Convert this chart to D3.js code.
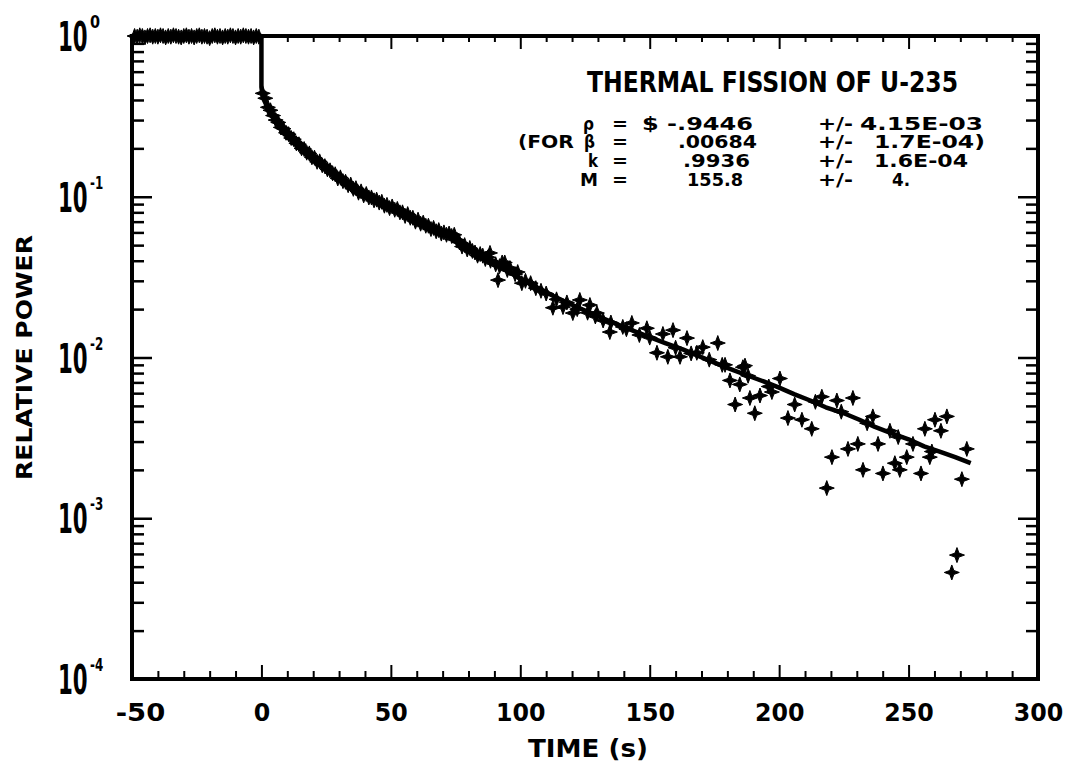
<!DOCTYPE html>
<html><head><meta charset="utf-8">
<script src="https://cdn.jsdelivr.net/npm/d3@7/dist/d3.min.js"></script>
<style>body{margin:0;background:#fff}svg{display:block}text{font-family:"DejaVu Sans",sans-serif;font-weight:bold;fill:#000}</style>
</head><body><svg id="c" width="1066" height="762"></svg>
<script>
// ---------- DATA ----------
const xTickLabels = ["-50","0","50","100","150","200","250","300"];
const xTickValues = [-50,0,50,100,150,200,250,300];
const yDecades = [1e-4,1e-3,1e-2,1e-1,1];
const yExponents = ["-4","-3","-2","-1","0"];
const title = "THERMAL FISSION OF U-235";
const paramSymbols = ["\u03C1","\u03B2","k","M"];
const paramValues = ["$ -.9446",".00684",".9936","155.8"];
const paramErrors = ["4.15E-03","1.7E-04)","1.6E-04","4."];
const xTitle = "TIME (s)";
const yTitle = "RELATIVE POWER";

// fitted curve (time s, relative power)
const fitT = [-50,0,0,0.5,1,2,3,4,5,6,7,8,9,10,12,14,16,18,20,22,25,28,30,33,36,38,40,44,48,50,55,60,63,65,70,73,75,80,85,88,90,95,100,106,112,118,125,131,137,144,150,156,163,169,175,181,188,194,200,206,212,218,225,231,237,243,250,256,262,268,274];
const fitV = [1,1,0.48,0.42,0.40,0.37,0.345,0.325,0.308,0.293,0.28,0.267,0.256,0.246,0.228,0.212,0.198,0.186,0.175,0.165,0.151,0.138,0.131,0.121,0.113,0.107,0.103,0.096,0.089,0.086,0.078,0.071,0.067,0.064,0.059,0.056,0.053,0.048,0.044,0.0405,0.039,0.0345,0.031,0.0275,0.0245,0.022,0.0196,0.0178,0.0162,0.0146,0.0134,0.0123,0.0112,0.0102,0.0093,0.0085,0.0077,0.0071,0.0065,0.0059,0.0054,0.0049,0.0045,0.0041,0.0037,0.0034,0.0031,0.0028,0.0026,0.0024,0.0022];

// measured points before the rod drop
const preT = [-49,-48,-47,-46,-45,-44,-43,-42,-41,-40,-39,-38,-37,-36,-35,-34,-33,-32,-31,-30,-29,-28,-27,-26,-25,-24,-23,-22,-21,-20,-19,-18,-17,-16,-15,-14,-13,-12,-11,-10,-9,-8,-7,-6,-5,-4,-3,-2,-1];
const preV = [1.0,0.99,1.01,1.0,0.98,1.0,1.01,0.99,1.0,0.99,1.01,1.0,0.98,1.0,0.99,1.01,1.0,0.99,0.98,1.0,1.01,0.99,1.0,0.98,1.0,1.01,0.99,1.0,0.99,0.97,1.0,1.01,0.99,1.0,0.98,1.0,0.99,1.01,1.0,0.98,1.0,0.99,1.01,1.0,0.99,1.0,0.98,1.0,0.99];

// measured points after the drop
const postT = [0.5,1.5,2.5,3.5,4.5,5.5,6.5,7.5,8.5,9.5,10.5,11.5,12.5,13.5,14.5,15.5,16.5,17.5,18.5,19.5,20.5,21.5,22.5,23.5,24.5,25.5,26.5,27.5,28.5,29.5,30.5,31.5,32.5,33.5,34.5,35.5,36.5,37.5,38.5,39.5,40.5,41.5,42.5,43.5,44.5,45.5,46.5,47.5,48.5,49.5,50.5,51.5,52.5,53.5,54.5,55.5,56.5,57.5,58.5,59.5,60.5,61.5,62.5,63.5,64.5,65.5,66.5,67.5,68.5,69.5,70.5,71.5,72.5,73.5,74.5,75.5,76.5,77.5,78.5,79.5,80.5,81.5,82.5,83.5,84.5,85.5,86.5,87.5,88.3,88.5,90.5,91.4,92,93,94,95,96,98,99,100.6,102,104,106,108,110,112.6,114,116.5,118,120.3,122,123,126,126.9,129,129.6,132,134.6,135,139.6,141,143.1,146,148.9,150,152.8,155.1,157,159,160,161.7,164.4,166,168.2,170.5,173,176.3,178,179.1,181,183,184.8,186,186.8,188,188.7,190.6,192.6,196,197.2,200.3,203.4,206,208.8,212.6,214,216.5,218.4,220.4,222.3,224,226.6,228.5,230.4,232.4,234,236.2,238.2,240.1,242.8,244.7,246,246.6,249.3,251.7,254.8,256.3,258.2,259,260.2,262.5,264.8,266.7,268.7,270.6,272.5];
const postV = [0.44,0.41,0.36,0.345,0.32,0.30,0.29,0.27,0.265,0.25,0.245,0.232,0.228,0.215,0.212,0.200,0.198,0.188,0.186,0.176,0.175,0.165,0.166,0.157,0.155,0.148,0.146,0.140,0.138,0.130,0.132,0.125,0.124,0.118,0.119,0.112,0.113,0.106,0.108,0.102,0.104,0.099,0.099,0.095,0.096,0.092,0.093,0.088,0.089,0.085,0.087,0.083,0.084,0.080,0.080,0.076,0.078,0.074,0.074,0.070,0.072,0.068,0.069,0.066,0.066,0.063,0.064,0.061,0.062,0.059,0.060,0.058,0.059,0.057,0.058,0.054,0.052,0.049,0.050,0.047,0.048,0.046,0.045,0.043,0.044,0.043,0.041,0.042,0.0447,0.040,0.038,0.0303,0.037,0.039,0.039,0.035,0.036,0.033,0.034,0.029,0.030,0.029,0.027,0.026,0.025,0.0204,0.023,0.0206,0.022,0.0189,0.020,0.0228,0.019,0.0212,0.018,0.0189,0.017,0.0144,0.0165,0.0155,0.015,0.0164,0.0138,0.0152,0.0133,0.0107,0.014,0.0101,0.0148,0.0115,0.0101,0.0132,0.0106,0.0107,0.0116,0.0097,0.0123,0.0090,0.0090,0.0072,0.0051,0.0068,0.0087,0.0089,0.0077,0.0056,0.0045,0.0058,0.0066,0.0061,0.0074,0.0042,0.0051,0.0041,0.0036,0.0053,0.0057,0.00154,0.0024,0.0054,0.0046,0.0027,0.0056,0.0029,0.0020,0.0039,0.0043,0.0029,0.0019,0.0035,0.0022,0.0032,0.0020,0.0024,0.0029,0.0019,0.0036,0.0024,0.0026,0.0041,0.0035,0.0043,0.00046,0.00059,0.00175,0.0027];

// ---------- CHART ----------
const svg = d3.select("#c");
svg.append("rect").attr("width",1066).attr("height",762).attr("fill","#fff");
const L=132,R=1038,T=36,B=679;
const x = d3.scaleLinear().domain([-50,300]).range([L,R]);
const y = d3.scaleLog().domain([1e-4,1]).range([B,T]);

const minorX = d3.range(-50,301,10).filter(v=>v%50!==0);
const logTicks = [];
for (let e=-4;e<0;e++) for (let m=2;m<=9;m++) logTicks.push(m*Math.pow(10,e));

function styleAxis(g,w){ g.select(".domain").remove(); g.selectAll(".tick line").attr("stroke","#000").attr("stroke-width",w); g.selectAll(".tick text").remove(); }

// bottom axis
svg.append("g").attr("transform",`translate(0,${B})`).call(d3.axisBottom(x).tickValues(minorX).tickSizeInner(-8).tickSizeOuter(0)).call(g=>styleAxis(g,2));
const bx = svg.append("g").attr("transform",`translate(0,${B})`).call(d3.axisBottom(x).tickValues(xTickValues).tickFormat((d,i)=>xTickLabels[i]).tickSizeInner(-14).tickSizeOuter(0).tickPadding(24));
bx.select(".domain").remove();
bx.selectAll(".tick line").attr("stroke","#000").attr("stroke-width",2);
bx.selectAll(".tick text").attr("font-size",25).attr("font-family","DejaVu Sans").attr("font-weight","bold").attr("fill","#000")
  .attr("dx",d=>d<0?8:0).attr("textLength",d=>String(d).length*16.5).attr("lengthAdjust","spacingAndGlyphs");

// top axis
svg.append("g").attr("transform",`translate(0,${T})`).call(d3.axisTop(x).tickValues(minorX).tickSizeInner(-6).tickSizeOuter(0)).call(g=>styleAxis(g,2));
svg.append("g").attr("transform",`translate(0,${T})`).call(d3.axisTop(x).tickValues(xTickValues).tickSizeInner(-13).tickSizeOuter(0)).call(g=>styleAxis(g,2));

// left / right axes
svg.append("g").attr("transform",`translate(${L},0)`).call(d3.axisLeft(y).tickValues(logTicks).tickSizeInner(-12).tickSizeOuter(0)).call(g=>styleAxis(g,2.5));
svg.append("g").attr("transform",`translate(${L},0)`).call(d3.axisLeft(y).tickValues(yDecades).tickSizeInner(-20).tickSizeOuter(0)).call(g=>styleAxis(g,2.5));
svg.append("g").attr("transform",`translate(${R},0)`).call(d3.axisRight(y).tickValues(logTicks).tickSizeInner(-12).tickSizeOuter(0)).call(g=>styleAxis(g,2.5));
svg.append("g").attr("transform",`translate(${R},0)`).call(d3.axisRight(y).tickValues(yDecades).tickSizeInner(-20).tickSizeOuter(0)).call(g=>styleAxis(g,2.5));

// frame
svg.append("rect").attr("x",L).attr("y",T).attr("width",R-L).attr("height",B-T).attr("fill","none").attr("stroke","#000").attr("stroke-width",4);

// y labels (condensed with a scale transform so their boxes stay tight)
const yl = svg.append("g");
yDecades.forEach((d,i)=>{
  yl.append("text").attr("transform",`translate(58,${y(d)+15}) scale(0.52,1)`).attr("font-size",41).text("10");
  yl.append("text").attr("transform",`translate(90,${y(d)-8}) scale(${yExponents[i].length>1?0.7:0.85},1)`).attr("font-size",17).text(yExponents[i]);
});

// axis titles
svg.append("text").attr("x",528).attr("y",757).attr("font-size",25).attr("textLength",120).attr("lengthAdjust","spacingAndGlyphs").text(xTitle);
svg.append("text").attr("transform","translate(32,480) rotate(-90)").attr("font-size",21).attr("textLength",245).attr("lengthAdjust","spacingAndGlyphs").text(yTitle);

// annotation
svg.append("text").attr("x",587).attr("y",92).attr("font-size",29).attr("textLength",371).attr("lengthAdjust","spacingAndGlyphs").text(title);
const rowY=[130,148,167,186];
const symX=[[583,11],[584,11],[588,10],[580,18]];
const valX=[[642,111],[678,79],[683,67],[687,56]];
const errX=[[860,123],[874,111],[874,94],[892,18]];
const ann = svg.append("g").attr("font-size",17);
ann.append("text").attr("x",518).attr("y",rowY[1]).attr("textLength",56).attr("lengthAdjust","spacingAndGlyphs").text("(FOR");
paramSymbols.forEach((s,i)=>{
  ann.append("text").attr("x",symX[i][0]).attr("y",rowY[i]).attr("textLength",symX[i][1]).attr("lengthAdjust","spacingAndGlyphs").text(s);
  ann.append("text").attr("x",612).attr("y",rowY[i]).attr("textLength",16).attr("lengthAdjust","spacingAndGlyphs").text("=");
  ann.append("text").attr("x",valX[i][0]).attr("y",rowY[i]).attr("textLength",valX[i][1]).attr("lengthAdjust","spacingAndGlyphs").text(paramValues[i]);
  ann.append("text").attr("x",818).attr("y",rowY[i]).attr("textLength",35).attr("lengthAdjust","spacingAndGlyphs").text("+/-");
  ann.append("text").attr("x",errX[i][0]).attr("y",rowY[i]).attr("textLength",errX[i][1]).attr("lengthAdjust","spacingAndGlyphs").text(paramErrors[i]);
});

// fitted line
const fit = fitT.map((t,i)=>[t,fitV[i]]);
svg.append("path").datum(fit).attr("fill","none").attr("stroke","#000").attr("stroke-width",4.5).attr("stroke-linejoin","round")
  .attr("d",d3.line().x(d=>x(d[0])).y(d=>y(d[1])));

// markers
const star = "M0,-7.5L2,-2L7.5,0L2,2L0,7.5L-2,2L-7.5,0L-2,-2Z";
const pts = preT.map((t,i)=>[t,preV[i]]).concat(postT.map((t,i)=>[t,postV[i]]));
svg.append("g").selectAll("path").data(pts).join("path")
  .attr("transform",d=>`translate(${x(d[0])},${y(d[1])})`).attr("d",star).attr("fill","#000").attr("stroke","#000").attr("stroke-width",1);
</script></body></html>
